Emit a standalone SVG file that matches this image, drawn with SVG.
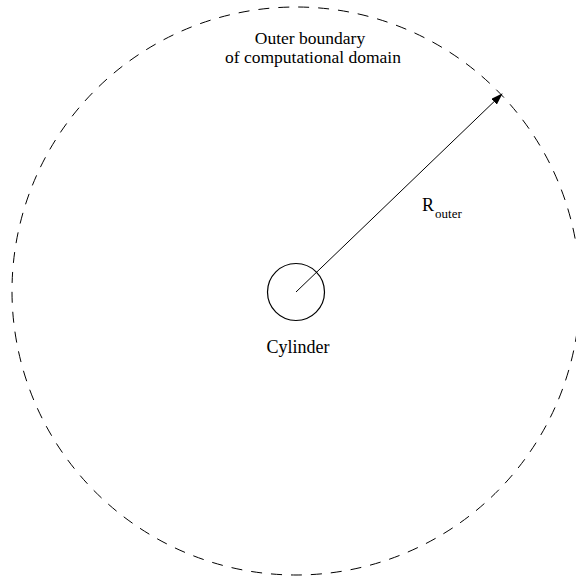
<svg xmlns="http://www.w3.org/2000/svg" width="576" height="579" viewBox="0 0 576 579">
<style>
.t{font-family:"Liberation Serif","Times New Roman","DejaVu Serif",serif;fill:#000}
.lbl{font-size:18px}
.top{font-size:17.5px}
</style>
<defs>
<marker id="ah" markerWidth="12" markerHeight="8" refX="11" refY="4" orient="auto" markerUnits="userSpaceOnUse">
<path d="M0,0 L12,4 L0,8 Z" fill="#000"/>
</marker>
</defs>
<rect width="576" height="579" fill="#fff"/>
<g id="outer-boundary">
<circle cx="296" cy="291" r="284" fill="none" stroke="#000" stroke-width="1" stroke-dasharray="11 9"/>
<text class="t top" x="310" y="44" text-anchor="middle">Outer boundary</text>
<text class="t top" x="313" y="62.5" text-anchor="middle">of computational domain</text>
</g>
<g id="cylinder">
<circle cx="296" cy="292" r="28.5" fill="none" stroke="#000" stroke-width="1.2"/>
<text class="t lbl" x="298" y="353" text-anchor="middle">Cylinder</text>
</g>
<g id="connectors">
<line x1="296" y1="292" x2="502" y2="94" stroke="#000" stroke-width="1" marker-end="url(#ah)"/>
</g>
<g id="r-label">
<text class="t" x="422" y="211" font-size="18">R<tspan font-size="13" dx="1" dy="7">outer</tspan></text>
</g>
</svg>
